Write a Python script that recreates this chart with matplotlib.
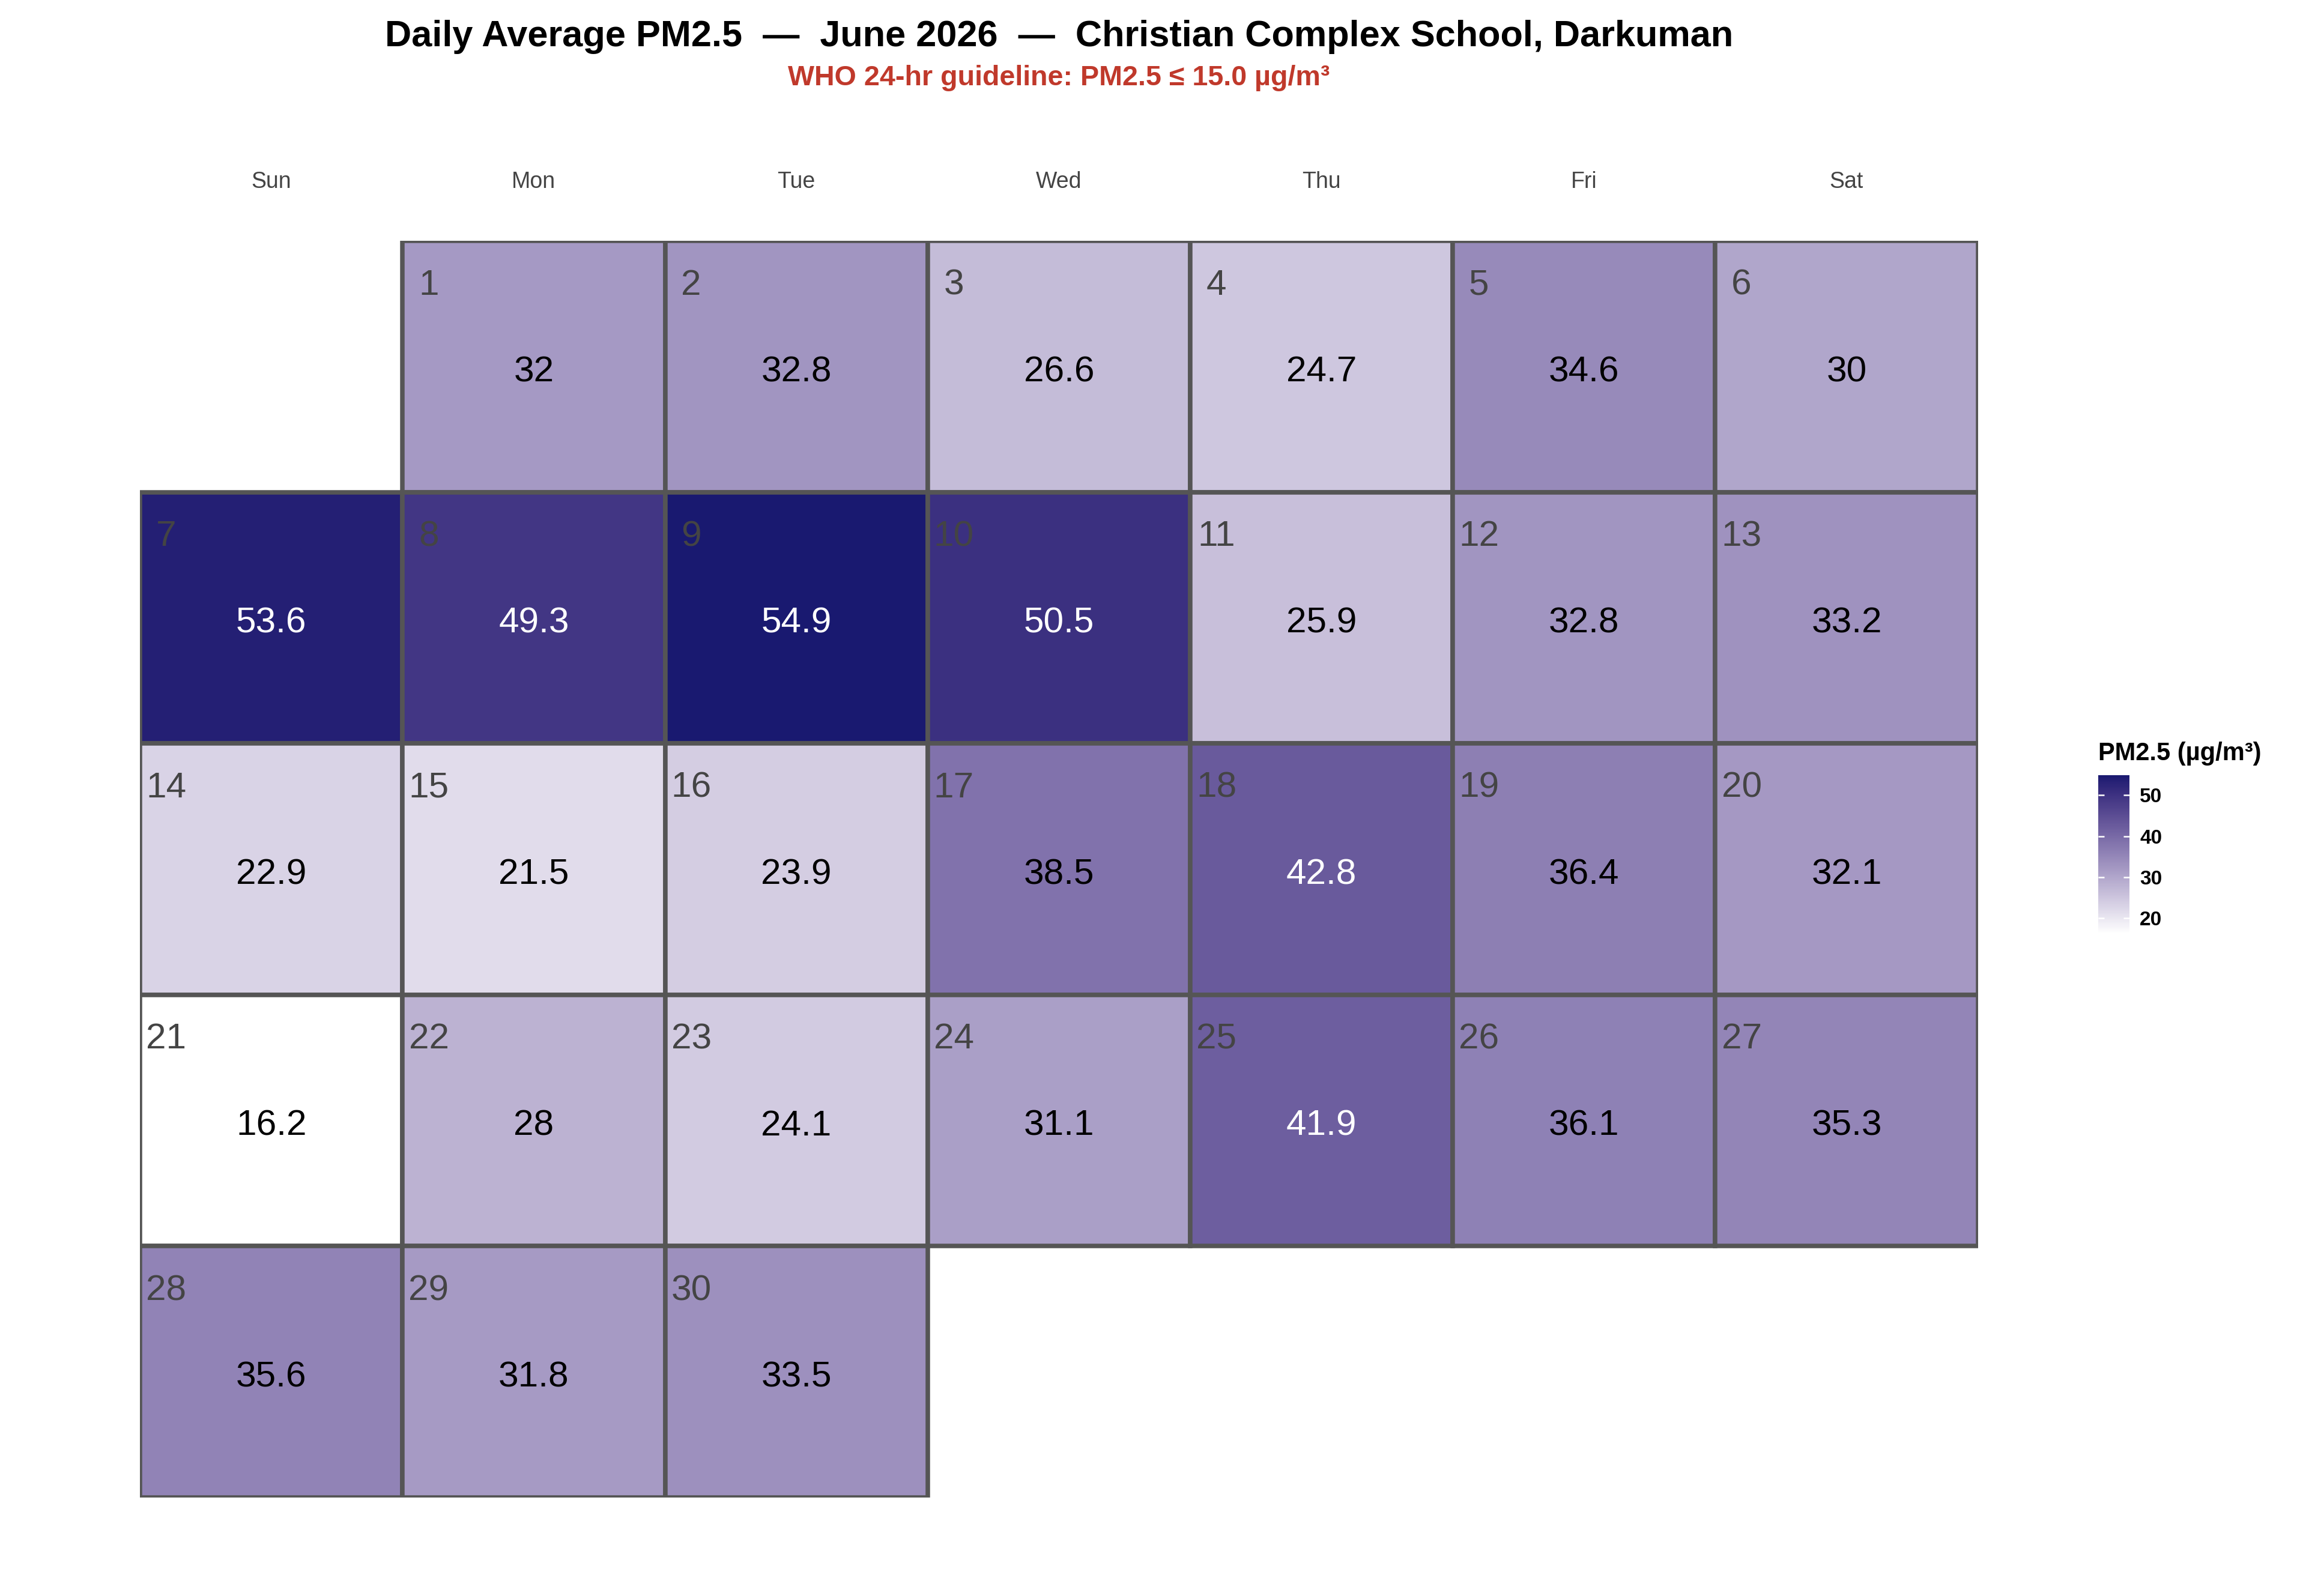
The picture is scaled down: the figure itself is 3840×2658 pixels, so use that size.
import datetime
import numpy as np
import matplotlib
matplotlib.use("Agg")
import matplotlib.pyplot as plt
from matplotlib.patches import Rectangle
from matplotlib.colors import ListedColormap, Normalize, to_rgb

plt.rcParams['font.family'] = ['Liberation Sans', 'DejaVu Sans']

# daily averages for June 2026
days = list(range(1, 31))
pm25 = [32, 32.8, 26.6, 24.7, 34.6, 30, 53.6, 49.3, 54.9, 50.5,
        25.9, 32.8, 33.2, 22.9, 21.5, 23.9, 38.5, 42.8, 36.4, 32.1,
        16.2, 28, 24.1, 31.1, 41.9, 36.1, 35.3, 35.6, 31.8, 33.5]
weekdays = ['Sun', 'Mon', 'Tue', 'Wed', 'Thu', 'Fri', 'Sat']
cbar_ticks = [20, 30, 40, 50]

title = 'Daily Average PM2.5  —  June 2026  —  Christian Complex School, Darkuman'
subtitle = 'WHO 24-hr guideline: PM2.5 ≤ 15.0 µg/m³'


# white -> midnightblue, interpolated in Lab like ggplot does
def _lin(c):
    c = np.asarray(c, float)
    return np.where(c <= 0.04045, c / 12.92, ((c + 0.055) / 1.055) ** 2.4)


def _delin(c):
    c = np.clip(c, 0, 1)
    return np.where(c <= 0.0031308, 12.92 * c, 1.055 * c ** (1 / 2.4) - 0.055)


M = np.array([[0.4124, 0.3576, 0.1805],
              [0.2126, 0.7152, 0.0722],
              [0.0193, 0.1192, 0.9505]])
WHITE = np.array([0.95047, 1.0, 1.08883])


def rgb2lab(rgb):
    xyz = M @ _lin(rgb) / WHITE
    f = np.where(xyz > 0.008856, np.cbrt(xyz), 7.787 * xyz + 16 / 116)
    return np.array([116 * f[1] - 16, 500 * (f[0] - f[1]), 200 * (f[1] - f[2])])


def lab2rgb(lab):
    fy = (lab[0] + 16) / 116
    fx = fy + lab[1] / 500
    fz = fy - lab[2] / 200
    f = np.array([fx, fy, fz])
    xyz = np.where(f ** 3 > 0.008856, f ** 3, (f - 16 / 116) / 7.787) * WHITE
    return _delin(np.linalg.solve(M, xyz))


lo, hi = rgb2lab(to_rgb('white')), rgb2lab(to_rgb('#191970'))
cmap = ListedColormap([lab2rgb(lo + t * (hi - lo)) for t in np.linspace(0, 1, 256)])
norm = Normalize(vmin=min(pm25), vmax=max(pm25))

fig = plt.figure(figsize=(12.8, 8.86), dpi=300)
ax = fig.add_axes([0.0607, 0.0617, 0.797, 0.7874])
ax.set_xlim(0, 7)
ax.set_ylim(5, 0)
ax.axis('off')

first = datetime.date(2026, 6, 1)
offset = (first.weekday() + 1) % 7  # Sunday = 0
for d, v in zip(days, pm25):
    k = offset + d - 1
    col, row = k % 7, k // 7
    ax.add_patch(Rectangle((col, row), 1, 1, facecolor=cmap(norm(v)),
                           edgecolor='#555555', linewidth=1.8))
    ax.text(col + 0.1, row + 0.177, str(d), ha='center', va='center',
            fontsize=14.5, color='#444444')
    ax.text(col + 0.5, row + 0.522, f'{v:g}', ha='center', va='center',
            fontsize=14.5, color='white' if v > 40 else 'black')

for i, w in enumerate(weekdays):
    ax.text(i + 0.5, -0.234, w, ha='center', va='center', fontsize=9, color='#444444')

cx = 0.0607 + 0.797 / 2
fig.text(cx, 1 - 61 / 2658, title, ha='center', va='center',
         fontsize=14.7, fontweight='bold')
fig.text(cx, 1 - 130 / 2658, subtitle, ha='center', va='center',
         fontsize=11.2, fontweight='bold', color='#c0392b')

cax = fig.add_axes([0.910, 0.415, 0.01354, 0.0993])
sm = plt.cm.ScalarMappable(norm=norm, cmap=cmap)
cb = fig.colorbar(sm, cax=cax, ticks=cbar_ticks)
cb.outline.set_visible(False)
cax.tick_params(axis='y', direction='in', length=2.5, width=0.6, color='white',
                left=True, right=True, labelsize=8, pad=4)
for lab in cax.get_yticklabels():
    lab.set_fontweight('bold')
fig.text(0.910, 1 - 1255 / 2658, 'PM2.5 (µg/m³)', ha='left', va='center',
         fontsize=10, fontweight='bold')

fig.savefig('out.png', dpi=300, facecolor='white')
